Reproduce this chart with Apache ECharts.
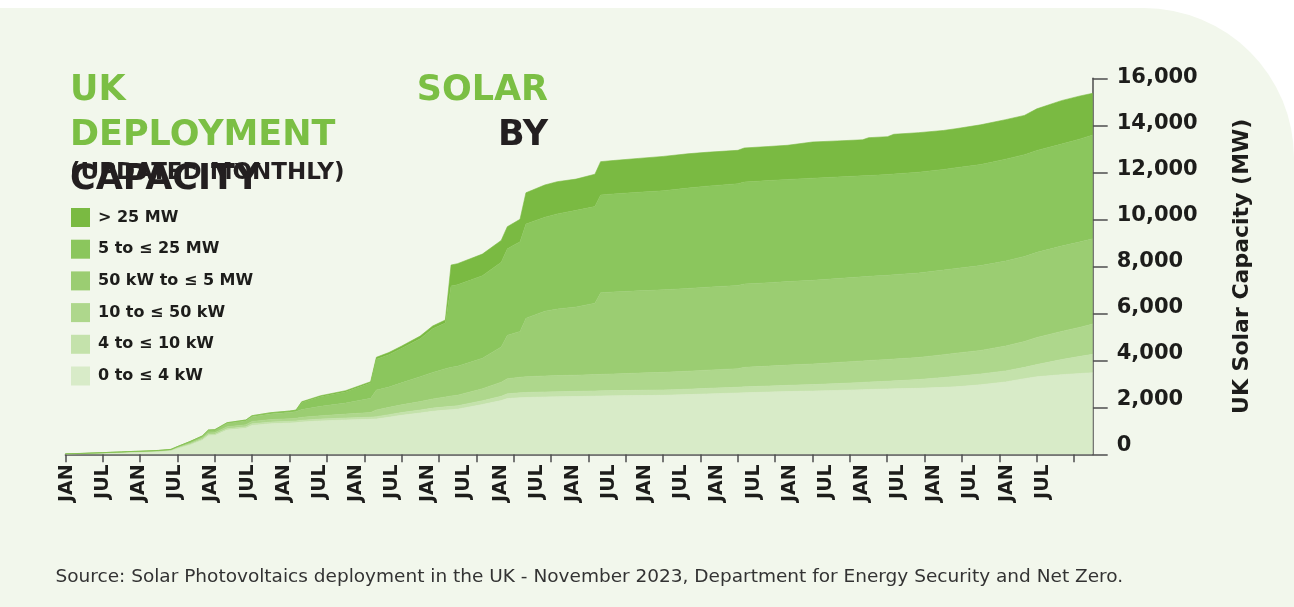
<!DOCTYPE html>
<html>
<head>
<meta charset="utf-8">
<script src="https://cdn.jsdelivr.net/npm/echarts@6/dist/echarts.min.js"></script>
<style>
html,body{margin:0;padding:0;background:#ffffff;}
#c{width:1294px;height:607px;}
</style>
</head>
<body>
<div id="c"></div>
<script>
// ---- data (MW by capacity band, at key months) ----
const months = ['2010-01','2010-04','2010-07','2010-10','2010-11','2011-01','2011-04','2011-06','2011-07','2011-09',
  '2011-11','2011-12','2012-01','2012-03','2012-06','2012-07','2012-10','2013-01','2013-02','2013-03',
  '2013-06','2013-10','2014-02','2014-03','2014-05','2014-07','2014-10','2014-12','2015-02','2015-03',
  '2015-04','2015-08','2015-11','2015-12','2016-02','2016-03','2016-06','2016-08','2016-11','2017-02',
  '2017-03','2017-05','2017-09','2018-01','2018-05','2018-08','2019-01','2019-02','2019-06','2019-09',
  '2020-01','2020-05','2020-09','2020-10','2021-01','2021-02','2021-06','2021-10','2021-12','2022-04',
  '2022-08','2022-11','2023-01','2023-05','2023-08','2023-10'];

const kw0to4 = [16,32,55,78,90,100,125,160,250,400,
  600,790,800,1030,1110,1230,1300,1330,1345,1370,
  1420,1460,1490,1500,1580,1660,1760,1830,1880,1900,
  1920,2120,2290,2370,2410,2420,2440,2450,2460,2475,
  2480,2488,2500,2512,2540,2570,2610,2620,2650,2670,
  2690,2720,2750,2760,2780,2785,2810,2850,2870,2960,
  3080,3220,3300,3390,3440,3472];

const kw4to10 = [1,2,4,6,6,7,8,11,16,25,
  36,48,48,60,62,70,72,75,75,78,
  80,85,90,100,108,115,125,135,140,142,
  145,160,180,205,210,212,215,217,219,221,
  222,223,225,228,232,236,245,250,258,265,
  275,290,310,315,330,340,370,420,450,460,
  470,480,520,640,730,783];

const kw10to50 = [1,3,6,8,9,11,14,17,24,35,
  54,67,70,80,90,100,108,113,115,125,
  140,165,200,290,310,330,360,390,420,440,
  450,510,600,640,660,670,680,685,690,695,
  700,710,730,750,765,775,790,830,845,860,
  880,900,915,918,925,928,940,970,985,1000,
  1060,1100,1150,1200,1240,1289];

const kw50to5mw = [2,3,5,8,10,12,13,17,25,70,
  80,115,115,150,165,200,240,262,280,330,
  400,470,600,846,862,935,1055,1125,1200,1220,
  1230,1300,1500,1850,1950,2490,2755,2830,2900,3036,
  3470,3490,3500,3510,3520,3530,3540,3545,3550,3555,
  3560,3570,3578,3580,3585,3590,3595,3600,3605,3610,
  3615,3620,3625,3630,3630,3630];

const mw5to25 = [0,0,0,0,0,0,5,5,10,10,
  10,14,14,25,33,42,50,60,65,305,
  413,476,649,1314,1380,1460,1620,1860,1944,3458,
  3465,3510,3600,3680,3820,4007,4000,4048,4111,4115,
  4161,4169,4195,4216,4270,4300,4330,4340,4345,4345,
  4345,4320,4300,4290,4285,4285,4290,4280,4285,4300,
  4335,4330,4335,4340,4380,4412];

const mw25plus = [0,0,0,0,0,0,0,0,0,0,
  0,0,0,0,0,0,0,0,0,30,
  40,50,60,80,90,100,110,120,130,895,
  900,920,930,940,950,1330,1370,1370,1330,1376,
  1420,1420,1440,1460,1460,1440,1420,1450,1450,1455,
  1540,1535,1530,1610,1610,1690,1680,1660,1660,1690,
  1680,1670,1770,1850,1830,1775];

const seriesNames = ['0 to \u2264 4 kW','4 to \u2264 10 kW','10 to \u2264 50 kW','50 kW to \u2264 5 MW','5 to \u2264 25 MW','> 25 MW'];
const tickYears = [2010,2011,2012,2013,2014,2015,2016,2017,2018,2019,2020,2021,2022,2023];
const tickLabels = ['JAN','JUL'];

// ---- chart ----
const base = months[0].split('-').map(Number);
function mIdx(s){ const p = s.split('-').map(Number); return (p[0]-base[0])*12 + (p[1]-base[1]); }
function ts(s){ const p = s.split('-').map(Number); return new Date(p[0], p[1]-1, 1).getTime(); }
const tickMonths = [];
tickYears.forEach(y => { tickMonths.push(y + '-01'); tickMonths.push(y + '-07'); });
const tickIdx = tickMonths.map(mIdx);
const lastIdx = mIdx(months[months.length-1]);

const layers = [kw0to4, kw4to10, kw10to50, kw50to5mw, mw5to25, mw25plus];
const colors = ['#d8ebc8','#c4e2ab','#aed78c','#9bcd72','#8bc65d','#7aba42'];
const font = '"DejaVu Sans", sans-serif';
const ink = '#1d1d1b';
const axisColor = '#4d4d4d';
const green = '#7bbf44';

const chart = echarts.init(document.getElementById('c'), null, {renderer:'canvas'});
const option = {
  animation:false,
  backgroundColor:'#ffffff',
  grid:[
    {left:65.4, top:78.3, width:1027.3, height:376},
    {left:67, top:78.3, width:993.8, height:376},
    {left:1000, top:78, width:92.7, height:368}
  ],
  xAxis:[
    // time axis carrying the data (hidden)
    {type:'time', gridIndex:0, min:ts(months[0]), max:ts(months[months.length-1]), position:'top', show:false},
    // visible axis line and half-year ticks
    {type:'value', gridIndex:0, min:0, max:lastIdx, position:'bottom',
     axisLine:{show:true, onZero:false, lineStyle:{color:axisColor, width:1.5}},
     axisTick:{show:true, customValues:tickIdx, length:8, lineStyle:{color:axisColor, width:1.5}},
     axisLabel:{show:false}, splitLine:{show:false}},
    // half-year labels
    {type:'value', gridIndex:1, min:0, max:lastIdx, position:'bottom',
     axisLine:{show:false}, axisTick:{show:false}, splitLine:{show:false},
     axisLabel:{show:true, customValues:tickIdx, rotate:90, margin:10,
       formatter:function(v){ return tickLabels[(v % 12 === 0) ? 0 : 1]; },
       fontFamily:font, fontWeight:'bold', fontSize:19, color:ink}},
    {type:'value', gridIndex:2, show:false}
  ],
  yAxis:[
    {type:'value', gridIndex:0, position:'right', min:0, max:16000, interval:2000,
     axisLine:{show:true, onZero:false, lineStyle:{color:axisColor, width:1.5}},
     axisTick:{show:true, length:15, lineStyle:{color:axisColor, width:1.5}},
     axisLabel:{show:false}, splitLine:{show:false},
     name:'UK Solar Capacity (MW)', nameLocation:'middle', nameRotate:90, nameGap:139,
     nameTextStyle:{fontFamily:font, fontWeight:'bold', fontSize:22, color:ink}},
    {type:'value', gridIndex:1, show:false},
    {type:'value', gridIndex:2, position:'right', min:0, max:16000, interval:2000,
     axisLine:{show:false, onZero:false}, axisTick:{show:false}, splitLine:{show:false},
     axisLabel:{margin:24, fontFamily:font, fontWeight:'bold', fontSize:21, color:ink,
       formatter:function(v){ return v.toLocaleString('en-US'); }}}
  ],
  legend:{
    data:seriesNames.slice().reverse(), orient:'vertical', left:71, top:208, padding:0,
    itemWidth:19, itemHeight:19, itemGap:12.7, icon:'rect', selectedMode:false,
    textStyle:{fontFamily:font, fontWeight:'bold', fontSize:16, color:ink, padding:[0,0,0,3]}
  },
  graphic:[
    {type:'rect', z:-100, silent:true, shape:{x:0, y:8, width:1294, height:599, r:[0,150,0,0]}, style:{fill:'#f2f7ec'}},
    {type:'text', z:50, style:{text:'UK', x:70, y:91, fill:green, font:'bold 35px ' + font, verticalAlign:'middle', align:'left'}},
    {type:'text', z:50, style:{text:'SOLAR', x:548, y:91, fill:green, font:'bold 35px ' + font, verticalAlign:'middle', align:'right'}},
    {type:'text', z:50, style:{text:'DEPLOYMENT', x:70, y:135.5, fill:green, font:'bold 35px ' + font, verticalAlign:'middle', align:'left'}},
    {type:'text', z:50, style:{text:'BY', x:548, y:135.5, fill:'#231f20', font:'bold 35px ' + font, verticalAlign:'middle', align:'right'}},
    {type:'text', z:50, style:{text:'CAPACITY', x:70, y:180, fill:'#231f20', font:'bold 35px ' + font, verticalAlign:'middle', align:'left'}},
    {type:'text', z:51, style:{text:'(UPDATED MONTHLY)', x:70, y:173, fill:'#231f20', font:'bold 23px ' + font, verticalAlign:'middle', align:'left'}},
    {type:'text', z:50, style:{text:'Source: Solar Photovoltaics deployment in the UK - November 2023, Department for Energy Security and Net Zero.', x:55.5, y:577, fill:'#333333', font:'18.5px ' + font, verticalAlign:'middle', align:'left'}}
  ],
  series: layers.map(function(vals, k){
    return {
      name:seriesNames[k], type:'line', stack:'capacity', xAxisIndex:0, yAxisIndex:0,
      symbol:'none', showSymbol:false, color:colors[k],
      lineStyle:{width:0.6, color:colors[k]},
      areaStyle:{color:colors[k], opacity:1},
      emphasis:{disabled:true}, silent:true,
      data: months.map(function(m, i){ return [ts(m), vals[i]]; })
    };
  })
};
chart.setOption(option);
</script>
</body>
</html>
